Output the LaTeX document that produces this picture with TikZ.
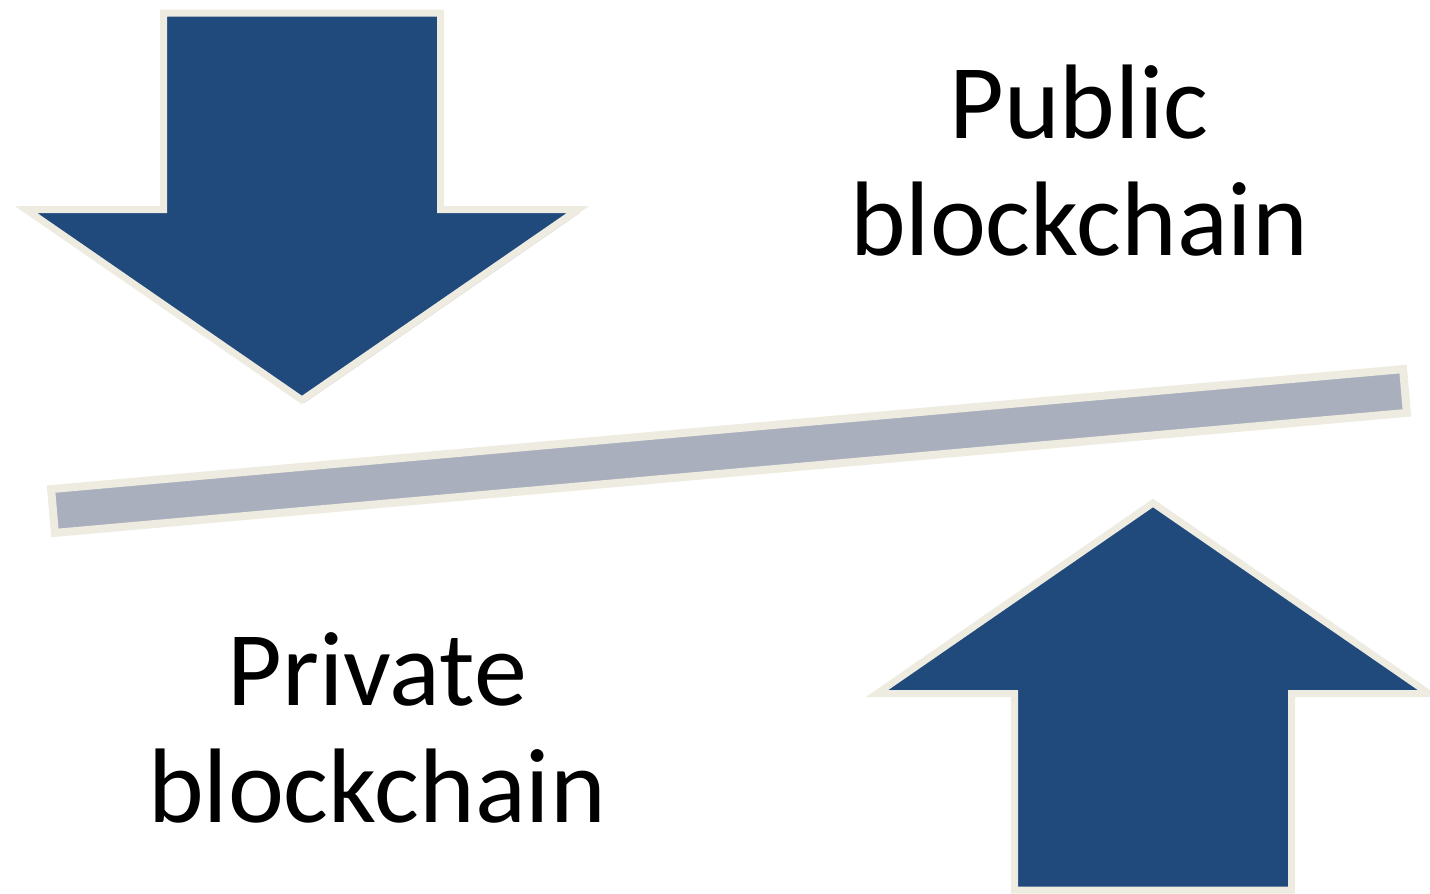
\documentclass[tikz,border=0pt]{standalone}
\usepackage{fontspec}
\setmainfont{Carlito}
\usetikzlibrary{math,shadows}

\definecolor{arrowblue}{RGB}{32,73,124}
\definecolor{rimcream}{RGB}{238,236,225}
\definecolor{bargray}{RGB}{169,175,189}

\tikzset{
    rimmed/.style={draw=rimcream, line width=3.5pt, line join=miter,
        drop shadow={shadow xshift=1.2pt, shadow yshift=-1.5pt, fill=black, opacity=0.18}},
    arrowshape/.style={rimmed, fill=arrowblue},
    barshape/.style={rimmed, fill=bargray, line width=4pt},
    caption/.style={align=center, anchor=base, inner sep=0pt,
        font=\fontsize{53}{58.5}\selectfont}
}

\begin{document}
\begin{tikzpicture}[x=0.5pt,y=-0.5pt]
    \useasboundingbox (0,0) rectangle (1430,894);
%
    % tilted bar in the middle
    \draw[barshape] (51.1,489.1) -- (1403.1,369.1) -- (1406.9,412.9) -- (54.9,532.9) -- cycle;
%
    \tikzmath{
        function blockarrow (\xMid, \yTip, \dir) {
            \hw = 276;
            \sw = 138.5;
            \hh = 190.5;
            \sl = 196.5;
            \yShoulder = \yTip - \dir * \hh;
            \yEnd = \yShoulder - \dir * \sl;
%
            {\draw[arrowshape] (\xMid,\yTip) -- (\xMid+\hw,\yShoulder)
                -- (\xMid+\sw,\yShoulder) -- (\xMid+\sw,\yEnd)
                -- (\xMid-\sw,\yEnd) -- (\xMid-\sw,\yShoulder)
                -- (\xMid-\hw,\yShoulder) -- cycle; };
        };
%
        blockarrow(302, 400, 1);
        blockarrow(1153, 503, -1);
    }
%
    % base anchor sits on the last line
    \node[caption] (public) at (1079,255) {Public\\blockchain};
    \node[caption] (private) at (377,822) {Private\\blockchain};
\end{tikzpicture}
\end{document}
